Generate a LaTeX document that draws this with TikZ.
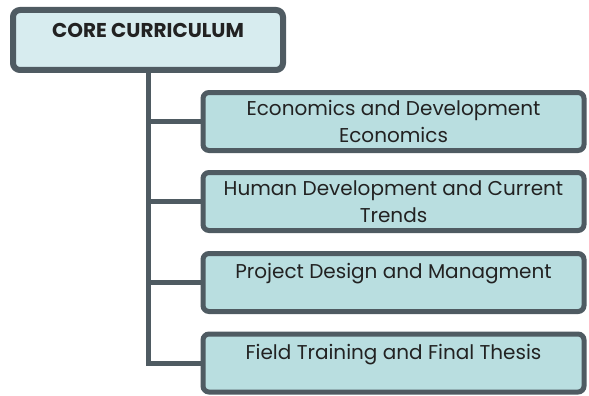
\documentclass[tikz,border=0pt]{standalone}
\usepackage{fontspec}
\setmainfont{Poppins}
\usetikzlibrary{positioning}

\definecolor{boxedge}{HTML}{4F5B62}
\definecolor{rootfill}{HTML}{D7ECEF}
\definecolor{leaffill}{HTML}{B9DEE0}
\definecolor{inktext}{HTML}{222222}

\begin{document}
\begin{tikzpicture}[x=1pt,y=-1pt,
    rootbox/.style={draw=boxedge, line width=6pt, rounded corners=7pt, fill=rootfill,
        minimum width=270pt, minimum height=60pt, inner sep=0pt, text=inktext,
        font=\fontsize{20}{24}\selectfont\bfseries, text height=14pt, text depth=18pt},
    leafbox/.style={draw=boxedge, line width=5pt, rounded corners=6pt, fill=leaffill,
        minimum width=381pt, minimum height=58pt, inner sep=0pt, text=inktext,
        align=center, font=\fontsize{20}{27}\selectfont},
    oneline/.style={text height=14pt, text depth=22pt},
    trunk/.style={draw=boxedge, line width=5pt}]
    \useasboundingbox (0,0) rectangle (589,396);

    \coordinate (R) at (148,40);
    \coordinate (L1) at (393.5,121.5);
    \coordinate (L2) at (393.5,201.5);
    \coordinate (L3) at (393.5,282.5);
    \coordinate (L4) at (393.5,363);

    % branches first, boxes on top
    \node[rootbox] (core) at (R) {CORE CURRICULUM};
    \node[leafbox] (econ) at (L1) {Economics and Development\\Economics};
    \node[leafbox] (human) at (L2) {Human Development and Current\\Trends};
    \node[leafbox, oneline] (project) at (L3) {Project Design and Managment};
    \node[leafbox, oneline] (field) at (L4) {Field Training and Final Thesis};

    \draw[trunk] (core.south) |- (econ.west);
    \draw[trunk] (core.south) |- (human.west);
    \draw[trunk] (core.south) |- (project.west);
    \draw[trunk] (core.south) |- (field.west);
\end{tikzpicture}
\end{document}
